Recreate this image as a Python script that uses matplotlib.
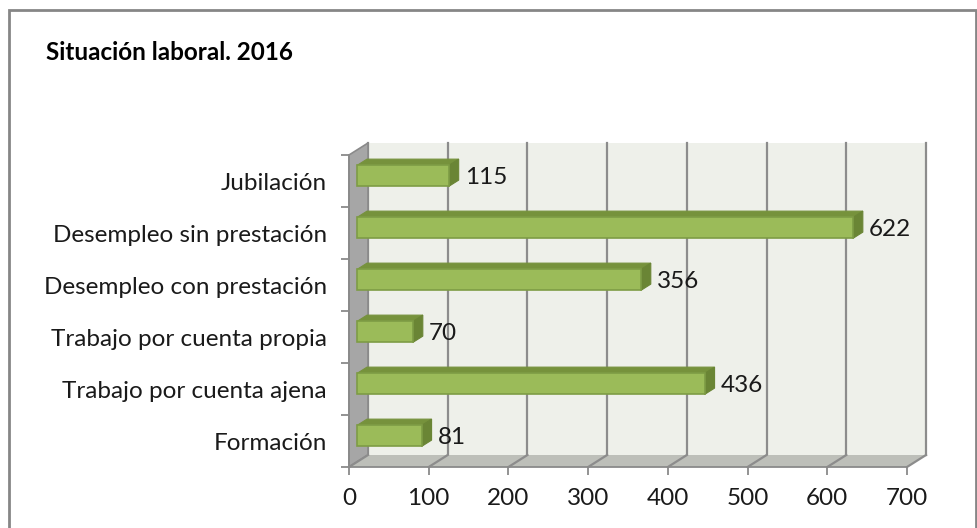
import matplotlib
matplotlib.use("Agg")
import matplotlib.pyplot as plt
from matplotlib.patches import Polygon, Rectangle
from matplotlib.lines import Line2D

categories = ["Formación", "Trabajo por cuenta ajena", "Trabajo por cuenta propia",
              "Desempleo con prestación", "Desempleo sin prestación", "Jubilación"]
values = [81, 436, 70, 356, 622, 115]
xticks = [0, 100, 200, 300, 400, 500, 600, 700]
title = "Situación laboral. 2016"

plt.rcParams['font.family'] = ['Lato', 'DejaVu Sans']

W, H = 977, 528
fig = plt.figure(figsize=(W / 100, H / 100), dpi=100)
fig.patch.set_facecolor('white')

# front plane of the pseudo-3D box (pixels)
left_px, right_px, top_px, bot_px = 349, 907, 155, 467
ax = fig.add_axes([left_px / W, (H - bot_px) / H, (right_px - left_px) / W, (bot_px - top_px) / H])
xmin, xmax = 0, 700
ymin, ymax = -0.5, len(categories) - 0.5
ax.set_xlim(xmin, xmax)
ax.set_ylim(ymin, ymax)
ax.set_facecolor('none')

sx = (xmax - xmin) / (right_px - left_px)   # data units per pixel
sy = (ymax - ymin) / (bot_px - top_px)
DEPTH_X, DEPTH_Y = 19, 12                   # pixel offset of back plane


def P(x, y, d):
    """point at depth d (pixels of x-offset)"""
    return (x + d * sx, y + d * DEPTH_Y / DEPTH_X * sy)


D = DEPTH_X
wall_col = '#EEF0EA'
side_col = '#A6A6A6'
floor_col = '#BDBFB9'
grid_col = '#8C8C8C'
edge_col = '#8A8A8A'

# back wall
ax.add_patch(Polygon([P(xmin, ymin, D), P(xmax, ymin, D), P(xmax, ymax, D), P(xmin, ymax, D)],
                     closed=True, facecolor=wall_col, edgecolor='none', clip_on=False, zorder=1))
# gridlines on back wall
for v in xticks:
    a, b = P(v, ymin, D), P(v, ymax, D)
    ax.add_line(Line2D([a[0], b[0]], [a[1], b[1]], color=grid_col, lw=1.6, clip_on=False, zorder=2))
# side wall
ax.add_patch(Polygon([P(xmin, ymin, 0), P(xmin, ymin, D), P(xmin, ymax, D), P(xmin, ymax, 0)],
                     closed=True, facecolor=side_col, edgecolor=edge_col, lw=1.2, clip_on=False, zorder=3))
# floor
ax.add_patch(Polygon([P(xmin, ymin, 0), P(xmax, ymin, 0), P(xmax, ymin, D), P(xmin, ymin, D)],
                     closed=True, facecolor=floor_col, edgecolor='none', clip_on=False, zorder=3))
for v in xticks:
    a, b = P(v, ymin, 0), P(v, ymin, D)
    ax.add_line(Line2D([a[0], b[0]], [a[1], b[1]], color=grid_col, lw=1.6, clip_on=False, zorder=3.5))

# bars
d0, d1 = 8, 18
h = 21 * sy
front_col = '#9BBB59'
front_edge = '#7E9C45'
top_col = '#76923C'
rside_col = '#6A8535'
for i, v in enumerate(values):
    y0, y1 = i - h / 2, i + h / 2
    ax.add_patch(Polygon([P(0, y1, d0), P(v, y1, d0), P(v, y1, d1), P(0, y1, d1)], closed=True,
                         facecolor=top_col, edgecolor=top_col, lw=0.8, zorder=5, clip_on=False))
    ax.add_patch(Polygon([P(v, y0, d0), P(v, y0, d1), P(v, y1, d1), P(v, y1, d0)], closed=True,
                         facecolor=rside_col, edgecolor=rside_col, lw=0.8, zorder=5, clip_on=False))
    ax.add_patch(Polygon([P(0, y0, d0), P(v, y0, d0), P(v, y1, d0), P(0, y1, d0)], closed=True,
                         facecolor=front_col, edgecolor=front_edge, lw=1.2, zorder=6, clip_on=False))
    lx, ly = P(v, i, d0)
    ax.text(lx + (d1 - d0 + 6) * sx, ly - 2 * sy, str(v), ha='left', va='center',
            fontsize=17.5, color='#1a1a1a', zorder=7, clip_on=False)

# axes styling
for s in ['top', 'right']:
    ax.spines[s].set_visible(False)
for s in ['left', 'bottom']:
    ax.spines[s].set_color(edge_col)
    ax.spines[s].set_linewidth(1.3)
    ax.spines[s].set_zorder(4)
ax.set_xticks(xticks)
ax.set_xticklabels([str(t) for t in xticks])
ax.set_yticks(range(len(categories)))
ax.set_yticklabels(categories)
ax.set_yticks([k - 0.5 for k in range(len(categories) + 1)], minor=True)
ax.tick_params(axis='x', which='major', length=6, width=1.3, color=edge_col, pad=9,
               labelsize=17.5, labelcolor='#1a1a1a')
ax.tick_params(axis='y', which='major', length=0, pad=16, labelsize=17.5, labelcolor='#1a1a1a')
ax.tick_params(axis='y', which='minor', length=6, width=1.3, color=edge_col)

# title
fig.text(46 / W, 1 - 52 / H, title, ha='left', va='center', fontsize=17.5, fontweight='bold', color='black')

# outer border
fig.add_artist(Rectangle((9 / W, -0.05), (976 - 9) / W, (H - 10) / H + 0.05, transform=fig.transFigure,
                         facecolor='none', edgecolor='#868686', lw=2))

fig.savefig('out.png', dpi=100)
